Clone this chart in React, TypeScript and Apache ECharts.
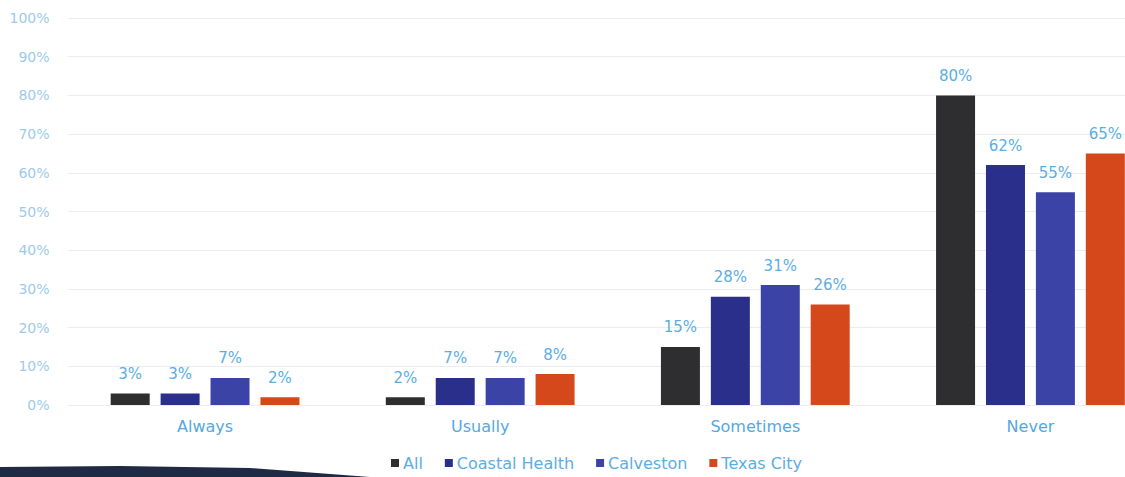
import React, { useEffect, useRef } from "react";
import * as echarts from "echarts";

const categories = ["Always", "Usually", "Sometimes", "Never"];
const seriesNames = ["All", "Coastal Health", "Calveston", "Texas City"];
const allValues = [3, 2, 15, 80];
const coastalValues = [3, 7, 28, 62];
const galvestonValues = [7, 7, 31, 55];
const texasValues = [2, 8, 26, 65];
const yTicks = [0, 10, 20, 30, 40, 50, 60, 70, 80, 90, 100];

const colors = ["#2e2d2f", "#2b2f8c", "#3b43a6", "#d4481c"];
const FONT = "'DejaVu Sans', 'Noto Sans', sans-serif";

export default function App() {
  const ref = useRef<HTMLDivElement>(null);
  useEffect(() => {
    if (!ref.current) return;
    const chart = echarts.init(ref.current, undefined, { renderer: "svg" });
    const data = [allValues, coastalValues, galvestonValues, texasValues];
    chart.setOption({
      animation: false,
      backgroundColor: "#ffffff",
      textStyle: { fontFamily: FONT },
      grid: { left: 67.5, right: 0, top: 18, bottom: 72, containLabel: false },
      legend: {
        data: seriesNames,
        left: 386,
        top: 450,
        icon: "rect",
        itemWidth: 8,
        itemHeight: 8,
        itemGap: 22,
        textStyle: { color: "#5aaee3", fontSize: 16, fontFamily: FONT, padding: [0, 0, 0, -1] },
      },
      xAxis: {
        type: "category",
        data: categories,
        axisLine: { show: false },
        axisTick: { show: false },
        axisLabel: { color: "#55a8df", fontSize: 16, margin: 13, fontFamily: FONT },
      },
      yAxis: {
        type: "value",
        min: 0,
        max: 100,
        interval: 10,
        axisLine: { show: false },
        axisTick: { show: false },
        splitLine: { lineStyle: { color: "#ededed", width: 1 } },
        axisLabel: {
          color: "#9ccbea",
          fontSize: 14,
          margin: 18,
          fontFamily: FONT,
          formatter: (v: number) => (yTicks.includes(v) ? v + "%" : ""),
        },
      },
      series: seriesNames.map((name, i) => ({
        name,
        type: "bar",
        data: data[i],
        barWidth: 39,
        barGap: "28%",
        itemStyle: { color: colors[i] },
        label: {
          show: true,
          position: "top",
          distance: 12,
          color: "#5aaee3",
          fontSize: 15,
          fontFamily: FONT,
          formatter: "{c}%",
        },
      })),
      graphic: [
        {
          type: "polygon",
          shape: {
            points: [
              [0, 467],
              [120, 466],
              [250, 468],
              [370, 477],
              [0, 477],
            ],
          },
          style: { fill: "#1f2a44" },
        },
      ],
    });
    return () => chart.dispose();
  }, []);
  return (
    <div
      style={{
        position: "fixed",
        left: 0,
        top: 0,
        width: 1125,
        height: 477,
        overflow: "hidden",
        background: "#ffffff",
      }}
    >
      <div ref={ref} style={{ width: 1168, height: 477 }} />
    </div>
  );
}
